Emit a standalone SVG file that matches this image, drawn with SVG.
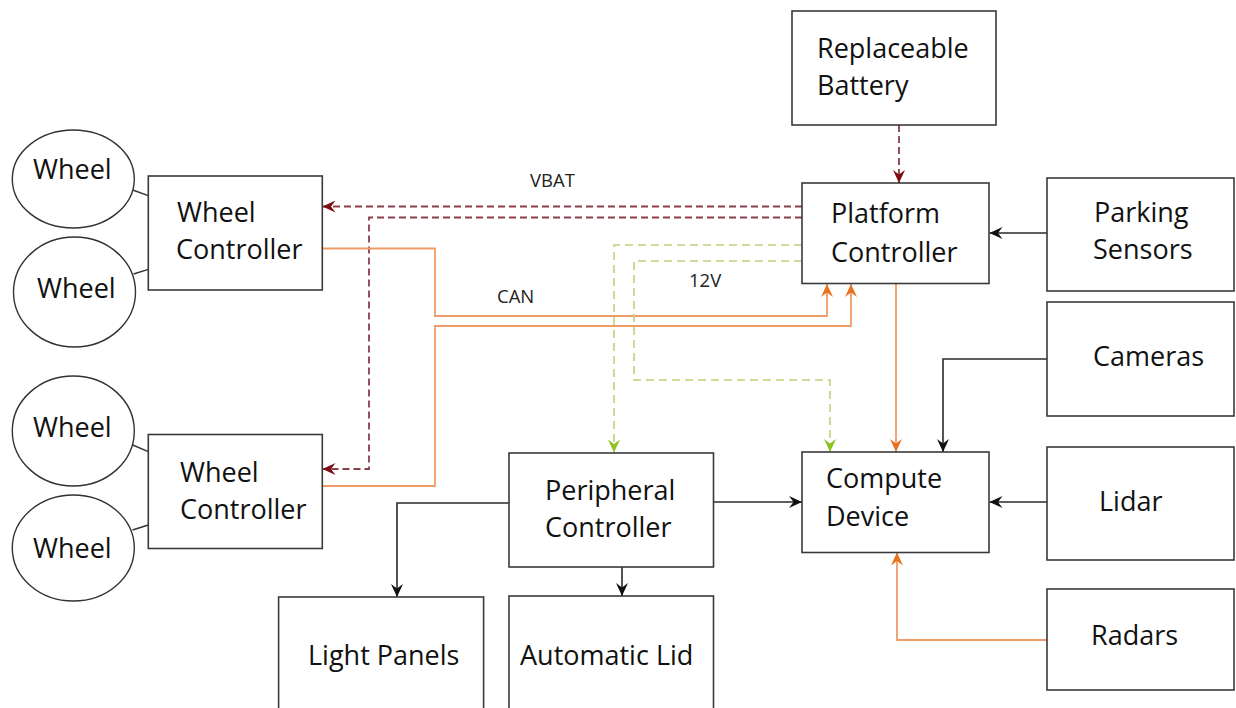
<svg xmlns="http://www.w3.org/2000/svg" width="1236" height="708" viewBox="0 0 1236 708">
<defs>
<style>
.box{fill:#fff;stroke:#3a3a3a;stroke-width:1.6}
.wheel{fill:#fff;stroke:#333;stroke-width:1.4}
.t{font-family:"Open Sans","Liberation Sans",sans-serif;font-size:27px;fill:#111}
.lbl{font-family:"Open Sans","Liberation Sans",sans-serif;font-size:18.5px;fill:#222}
.blk{fill:none;stroke:#2a2a2a;stroke-width:1.6}
.red{fill:none;stroke:#8a3f4a;stroke-width:1.8;stroke-dasharray:7 4}
.org{fill:none;stroke:#ee9d66;stroke-width:1.8}
.grn{fill:none;stroke:#bcd27a;stroke-width:1.6;stroke-dasharray:8 5}
.tie{fill:none;stroke:#333;stroke-width:1.4}
</style>
<marker id="aBlk" viewBox="0 0 13 12" refX="13" refY="6" markerWidth="13" markerHeight="12" markerUnits="userSpaceOnUse" orient="auto"><path d="M0,0 L13,6 L0,12 L4.5,6 Z" fill="#111"/></marker>
<marker id="aRed" viewBox="0 0 13 12" refX="13" refY="6" markerWidth="13" markerHeight="12" markerUnits="userSpaceOnUse" orient="auto"><path d="M0,0 L13,6 L0,12 L4.5,6 Z" fill="#7a0c12"/></marker>
<marker id="aOrg" viewBox="0 0 13 12" refX="13" refY="6" markerWidth="13" markerHeight="12" markerUnits="userSpaceOnUse" orient="auto"><path d="M0,0 L13,6 L0,12 L4.5,6 Z" fill="#e8731e"/></marker>
<marker id="aGrn" viewBox="0 0 13 12" refX="13" refY="6" markerWidth="13" markerHeight="12" markerUnits="userSpaceOnUse" orient="auto"><path d="M0,0 L13,6 L0,12 L4.5,6 Z" fill="#8dc21f"/></marker>
</defs>
<rect x="0" y="0" width="1236" height="708" fill="#fff"/>

<g id="connectors">
<path class="red" d="M899,125 V183" marker-end="url(#aRed)"/>
<path class="red" d="M802,206.5 H322.5" marker-end="url(#aRed)"/>
<path class="red" d="M802,217.5 H369 V469 H322.5" marker-end="url(#aRed)"/>
<path class="org" d="M322.5,248.5 H435 V316 H827 V284" marker-end="url(#aOrg)"/>
<path class="org" d="M322.5,486 H435 V326 H851 V284" marker-end="url(#aOrg)"/>
<path class="grn" d="M802,245 H614 V452.5" marker-end="url(#aGrn)"/>
<path class="grn" d="M802,261 H634 V380 H830 V452" marker-end="url(#aGrn)"/>
<path class="org" d="M896,284 V452" marker-end="url(#aOrg)"/>
<path class="blk" d="M1047,233 H989.5" marker-end="url(#aBlk)"/>
<path class="blk" d="M1047,359 H943 V452" marker-end="url(#aBlk)"/>
<path class="blk" d="M1047,502 H989.5" marker-end="url(#aBlk)"/>
<path class="org" d="M1047,640 H897 V552.5" marker-end="url(#aOrg)"/>
<path class="blk" d="M713.5,502 H802" marker-end="url(#aBlk)"/>
<path class="blk" d="M509,503 H397 V597" marker-end="url(#aBlk)"/>
<path class="blk" d="M622,567 V596" marker-end="url(#aBlk)"/>
<path class="tie" d="M132.7,190 L148.3,195.7"/>
<path class="tie" d="M133.5,274 L148.3,269.3"/>
<path class="tie" d="M132.7,445 L148.3,451.7"/>
<path class="tie" d="M132.5,530 L148.3,525"/>
<text class="lbl" x="530" y="187">VBAT</text>
<text class="lbl" x="497" y="303">CAN</text>
<text class="lbl" x="689" y="287">12V</text>
</g>

<g id="wheel1"><ellipse class="wheel" cx="73.3" cy="179" rx="61" ry="49"/><text class="t" x="33" y="179">Wheel</text></g>
<g id="wheel2"><ellipse class="wheel" cx="74.5" cy="292" rx="61" ry="55"/><text class="t" x="37" y="298">Wheel</text></g>
<g id="wheel3"><ellipse class="wheel" cx="73.3" cy="431" rx="61" ry="55"/><text class="t" x="33" y="437">Wheel</text></g>
<g id="wheel4"><ellipse class="wheel" cx="73.3" cy="548" rx="61" ry="53"/><text class="t" x="33" y="558">Wheel</text></g>

<g id="wheel-controller-1"><rect class="box" x="148.3" y="176" width="174" height="114"/><text class="t" x="177" y="222">Wheel</text><text class="t" x="176" y="259">Controller</text></g>
<g id="wheel-controller-2"><rect class="box" x="148.3" y="434.5" width="174" height="114"/><text class="t" x="180" y="482">Wheel</text><text class="t" x="180" y="519">Controller</text></g>

<g id="battery"><rect class="box" x="792" y="11" width="204" height="114"/><text class="t" x="817" y="58">Replaceable</text><text class="t" x="817" y="95">Battery</text></g>
<g id="platform-controller"><rect class="box" x="802" y="183" width="187" height="100.5"/><text class="t" x="831" y="223">Platform</text><text class="t" x="831" y="262">Controller</text></g>
<g id="parking-sensors"><rect class="box" x="1047" y="178" width="187" height="113"/><text class="t" x="1094" y="222">Parking</text><text class="t" x="1093" y="259">Sensors</text></g>
<g id="cameras"><rect class="box" x="1047" y="302" width="187" height="114"/><text class="t" x="1093" y="366">Cameras</text></g>
<g id="lidar"><rect class="box" x="1047" y="447" width="187" height="113"/><text class="t" x="1099" y="511">Lidar</text></g>
<g id="radars"><rect class="box" x="1047" y="589" width="187" height="101"/><text class="t" x="1091" y="645">Radars</text></g>
<g id="compute-device"><rect class="box" x="802" y="452" width="187" height="100.5"/><text class="t" x="826" y="488">Compute</text><text class="t" x="826" y="526">Device</text></g>
<g id="peripheral-controller"><rect class="box" x="509" y="453" width="204.5" height="114"/><text class="t" x="545" y="500">Peripheral</text><text class="t" x="545" y="537">Controller</text></g>
<g id="light-panels"><rect class="box" x="278.6" y="597" width="205" height="125"/><text class="t" x="308" y="665">Light Panels</text></g>
<g id="automatic-lid"><rect class="box" x="509" y="596" width="204.5" height="126"/><text class="t" x="520" y="665">Automatic Lid</text></g>
</svg>
